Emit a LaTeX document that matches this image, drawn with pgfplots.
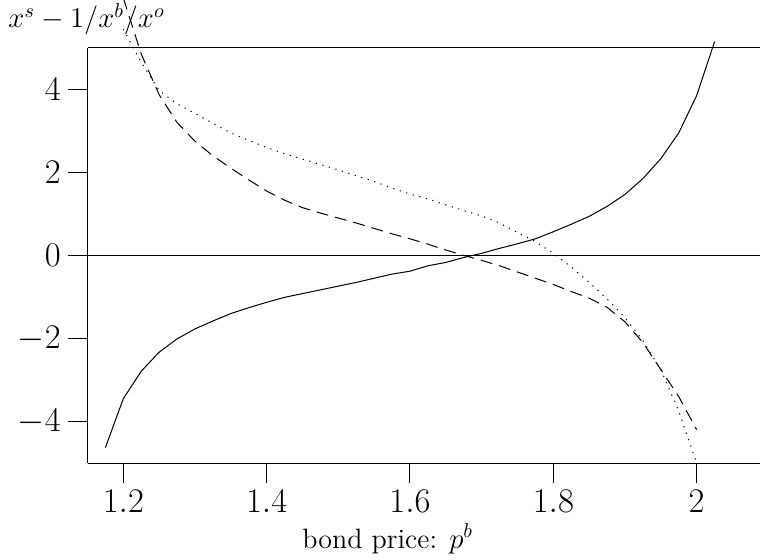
\documentclass[border=0pt]{standalone}
\usepackage{pgfplots}
\pgfplotsset{compat=1.18}

\begin{document}
\begin{tikzpicture}
\useasboundingbox (-43.85pt,-48pt) rectangle (336.65pt,231.5pt);
\begin{axis}[
	at={(0,0)}, anchor=south west,
	scale only axis,
	width=336.15pt, height=207.6pt,
	xmin=1.1503, xmax=2.0884,
	ymin=-5, ymax=5,
	axis lines=left,
	axis line style={-, line width=0.5pt},
	tick align=outside,
	major tick length=10pt,
	tick style={black, line width=0.5pt},
	xtick={1.2,1.4,1.6,1.8,2},
	ytick={-4,-2,0,2,4},
	ticklabel style={font=\fontsize{16}{18}\selectfont},
	clip=false,
]

% zero line and top line
\draw[line width=0.5pt] (rel axis cs:0,1) -- (rel axis cs:1,1);
\draw[line width=0.5pt] (rel axis cs:0,0.5) -- (rel axis cs:1,0.5);

% solid
\addplot[black, line width=0.5pt] coordinates {
(1.175,-4.63)(1.2,-3.45)(1.225,-2.79)(1.25,-2.33)(1.275,-2.01)(1.3,-1.77)
(1.325,-1.58)(1.35,-1.40)(1.375,-1.26)(1.4,-1.13)(1.425,-1.01)(1.45,-0.92)
(1.475,-0.83)(1.5,-0.74)(1.525,-0.65)(1.55,-0.55)(1.575,-0.45)(1.6,-0.38)
(1.625,-0.25)(1.65,-0.17)(1.675,-0.05)(1.7,0.05)(1.725,0.17)(1.75,0.28)
(1.775,0.40)(1.8,0.57)(1.825,0.75)(1.85,0.94)(1.875,1.18)(1.9,1.47)
(1.925,1.85)(1.95,2.33)(1.975,2.95)(2.0,3.85)(2.025,5.15)
};

% dashed
\addplot[black, line width=0.5pt, dash pattern=on 6pt off 3.5pt] coordinates {
(1.2,6.2)(1.225,4.85)(1.25,3.87)(1.275,3.20)(1.3,2.75)(1.325,2.40)
(1.35,2.10)(1.375,1.82)(1.4,1.55)(1.425,1.33)(1.45,1.15)(1.475,1.02)
(1.5,0.90)(1.525,0.78)(1.55,0.65)(1.575,0.52)(1.6,0.40)(1.625,0.27)
(1.65,0.13)(1.675,0.0)(1.7,-0.12)(1.725,-0.25)(1.75,-0.40)(1.775,-0.55)
(1.8,-0.70)(1.825,-0.87)(1.85,-1.03)(1.875,-1.25)(1.9,-1.60)(1.925,-2.10)
(1.95,-2.75)(1.975,-3.40)(2.0,-4.20)
};

% dotted
\addplot[black, line width=0.5pt, dash pattern=on 0.6pt off 2.8pt] coordinates {
(1.2,5.45)(1.225,4.65)(1.25,3.97)(1.275,3.65)(1.3,3.42)(1.325,3.18)
(1.35,2.95)(1.375,2.77)(1.4,2.60)(1.425,2.45)(1.45,2.32)(1.475,2.19)
(1.5,2.06)(1.525,1.92)(1.55,1.78)(1.575,1.62)(1.6,1.48)(1.625,1.36)
(1.65,1.22)(1.675,1.08)(1.7,0.95)(1.725,0.78)(1.75,0.55)(1.775,0.33)
(1.8,0.05)(1.825,-0.28)(1.85,-0.65)(1.875,-1.05)(1.9,-1.50)(1.925,-2.05)
(1.95,-2.75)(1.975,-3.75)(2.0,-5.0)
};

\node[anchor=base west, inner sep=0pt, font=\fontsize{14.3}{16}\selectfont]
	at (rel axis cs:0,1) [xshift=-39.8pt, yshift=10pt] {$x^s-1/x^b/x^o$};
\node[anchor=base, inner sep=0pt, font=\fontsize{14}{16}\selectfont]
	at (rel axis cs:0,0) [xshift=150pt, yshift=-42.5pt] {bond price: $p^b$};
\end{axis}
\end{tikzpicture}
\end{document}
